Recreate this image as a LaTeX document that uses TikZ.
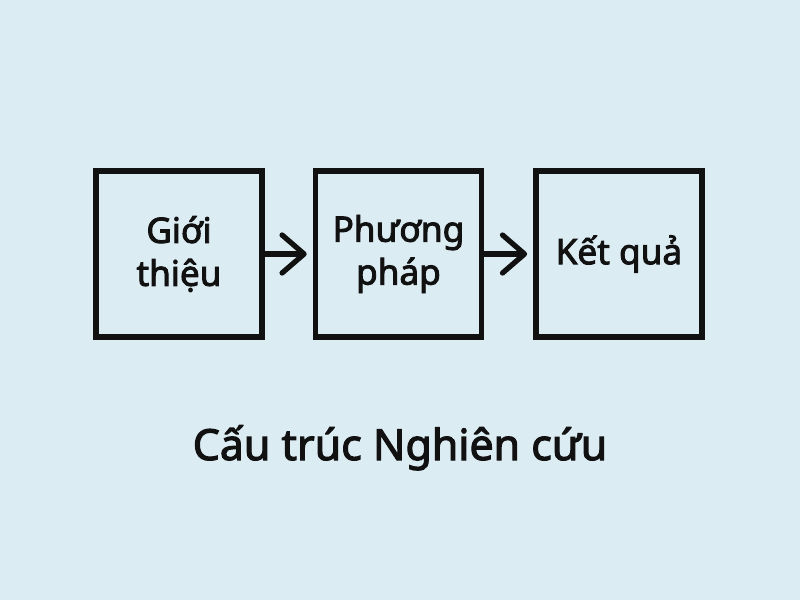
\documentclass[tikz,border=0pt]{standalone}
\usepackage{fontspec}
\setmainfont{Noto Sans}[FakeBold=2.6]
\usetikzlibrary{positioning,arrows.meta}
\definecolor{paleblue}{RGB}{220,236,243}
\definecolor{ink}{RGB}{17,17,17}
\tikzset{
  box/.style={draw=ink,line width=1.55pt,minimum size=1.66cm,align=center,text=ink,font=\fontsize{10pt}{12.2pt}\selectfont},
  flow/.style={draw=ink,line width=1.5pt,shorten >=0.06cm,-{Straight Barb[length=2.2mm,width=3.8mm,line cap=round,line join=round]}}
}

\begin{document}
\begin{tikzpicture}
        \fill[paleblue] (0,0) rectangle (8,6);
        \useasboundingbox (0,0) rectangle (8,6);

        \node[box] (intro) at (1.79,3.46) {Giới\\thiệu};
        \node[box,right=0.48cm of intro] (method) {Phương\\pháp};
        \node[box,right=0.49cm of method] (result) {Kết quả};

        \draw[flow] (intro) -- (method);
        \draw[flow] (method) -- (result);

        \node[anchor=base,text=ink,font=\fontsize{12.2pt}{14pt}\selectfont] (title) at (4.0,1.40) {Cấu trúc Nghiên cứu};
    \end{tikzpicture}
\end{document}
